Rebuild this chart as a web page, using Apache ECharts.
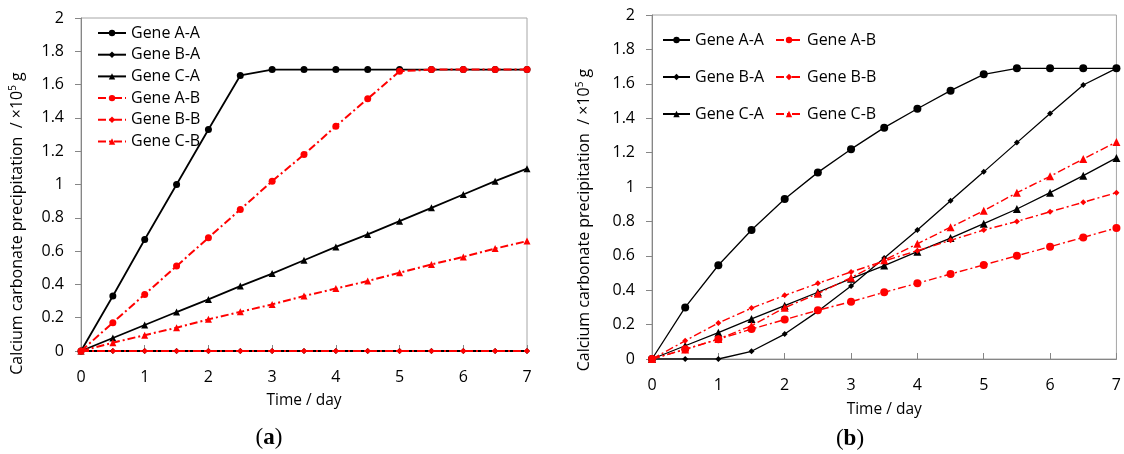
<!DOCTYPE html>
<html>
<head>
<meta charset="utf-8">
<script src="https://cdn.jsdelivr.net/npm/echarts@6/dist/echarts.min.js"></script>
<style>html,body{margin:0;padding:0;background:#fff}#c{width:1124px;height:454px}</style>
</head>
<body>
<div id="c"></div>
<script>
// ---- data ----
const times = [0,0.5,1,1.5,2,2.5,3,3.5,4,4.5,5,5.5,6,6.5,7];
const xTicks = [0,1,2,3,4,5,6,7];
const yTicks = [0,0.2,0.4,0.6,0.8,1,1.2,1.4,1.6,1.8,2];
const seriesNames = ['Gene A-A','Gene B-A','Gene C-A','Gene A-B','Gene B-B','Gene C-B'];

// panel (a)
const aGeneAA = [0,0.33,0.67,1.0,1.33,1.655,1.69,1.69,1.69,1.69,1.69,1.69,1.69,1.69,1.69];
const aGeneBA = [0,0,0,0,0,0,0,0,0,0,0,0,0,0,0];
const aGeneCA = [0,0.078,0.156,0.234,0.31,0.39,0.465,0.545,0.625,0.70,0.78,0.86,0.94,1.02,1.095];
const aGeneAB = [0,0.17,0.34,0.51,0.68,0.85,1.02,1.18,1.35,1.515,1.68,1.69,1.69,1.69,1.69];
const aGeneBB = [0,0,0,0,0,0,0,0,0,0,0,0,0,0,0];
const aGeneCB = [0,0.05,0.095,0.14,0.19,0.235,0.28,0.33,0.375,0.42,0.47,0.52,0.565,0.615,0.66];

// panel (b)
const bGeneAA = [0,0.30,0.545,0.75,0.93,1.085,1.22,1.345,1.455,1.56,1.655,1.69,1.69,1.69,1.69];
const bGeneBA = [0,0,0,0.045,0.145,0.277,0.425,0.587,0.75,0.92,1.088,1.258,1.427,1.593,1.69];
const bGeneCA = [0,0.077,0.153,0.233,0.31,0.388,0.467,0.543,0.624,0.703,0.787,0.872,0.967,1.066,1.169];
const bGeneAB = [0,0.057,0.115,0.174,0.229,0.283,0.333,0.388,0.44,0.494,0.547,0.60,0.653,0.707,0.762];
const bGeneBB = [0,0.106,0.209,0.296,0.37,0.44,0.506,0.57,0.63,0.69,0.75,0.80,0.856,0.911,0.967];
const bGeneCB = [0,0.055,0.116,0.194,0.298,0.38,0.473,0.574,0.67,0.766,0.862,0.967,1.062,1.163,1.262];

const aData = [aGeneAA,aGeneBA,aGeneCA,aGeneAB,aGeneBB,aGeneCB];
const bData = [bGeneAA,bGeneBA,bGeneCA,bGeneAB,bGeneBB,bGeneCB];

// ---- styling ----
const FONT = '"Open Sans", "Noto Sans", sans-serif';
const symbols = ['circle','diamond','triangle','circle','diamond','triangle'];
const colors = ['#000','#000','#000','#ff0000','#ff0000','#ff0000'];
const dash = [8,3,2,3];

function pairs(arr){ return times.map((t,i)=>[t,arr[i]]); }

function mkSeries(dataArr, idx, panel){
  return dataArr.map((arr,i)=>{
    const isB = i>=3;
    const sizeA = [7,6,7,7,6,7];
    const sizeB = [8,6,8,8,6,8];
    return {
      name: seriesNames[i] + (panel==='b' ? ' (b)' : ''),
      type:'line',
      xAxisIndex: idx, yAxisIndex: idx,
      data: pairs(arr),
      symbol: symbols[i],
      symbolSize: panel==='a' ? sizeA[i] : sizeB[i],
      showAllSymbol: true,
      color: colors[i],
      itemStyle:{color:colors[i]},
      lineStyle:{color:colors[i], width: panel==='a' ? (isB?2:1.8) : (isB?1.4:1.3), type: isB ? dash : 'solid'},
      animation:false,
      z: 2 + i
    };
  });
}

const yName = 'Calcium carbonate precipitation  / ×10{sup|5} g';
function yAxis(idx, gap, shift){
  return {
    type:'value', gridIndex: idx, min:0, max:2, interval:0.2,
    name: yName, nameLocation:'middle', nameGap: gap, nameRotate: 90,
    nameTextStyle:{fontFamily:FONT, fontSize:16, color:'#000', padding:[0, shift, 0, 0],
      rich:{sup:{fontFamily:FONT,fontSize:10,color:'#000',verticalAlign:'top',padding:[0,0,8,0]}}},
    axisLine:{show:true, lineStyle:{color:'#868686', width:1}},
    axisTick:{show:true, inside:false, length:6, lineStyle:{color:'#868686'}},
    splitLine:{show:false},
    axisLabel:{fontFamily:FONT, fontSize:16, color:'#000', margin:17,
      formatter: v => { const k = yTicks.findIndex(t=>Math.abs(t-v)<1e-6); return k>=0 ? String(yTicks[k]) : ''; }}
  };
}
function xAxis(idx, gap){
  return {
    type:'value', gridIndex: idx, min:0, max:7, interval:1,
    name:'Time / day', nameLocation:'middle', nameGap: gap,
    nameTextStyle:{fontFamily:FONT, fontSize:15.5, color:'#000'},
    axisLine:{show:true, onZero:false, lineStyle:{color:'#868686', width:1}},
    axisTick:{show:true, inside:true, length:6, lineStyle:{color:'#868686'}},
    splitLine:{show:false},
    axisLabel:{fontFamily:FONT, fontSize:16, color:'#000', margin:18,
      formatter: v => { const k = xTicks.indexOf(v); return k>=0 ? String(xTicks[k]) : ''; }}
  };
}

const legendText = {fontFamily:FONT, fontSize:16, color:'#000', lineHeight:18};
const capRich = {
  p:{fontFamily:'"Liberation Serif", serif', fontSize:23, fill:'#000', color:'#000'},
  b:{fontFamily:'"Liberation Serif", serif', fontSize:23, fontWeight:'bold', fill:'#000', color:'#000'}
};

const option = {
  backgroundColor:'#fff',
  animation:false,
  grid:[
    {left:81, right:597, top:18, bottom:103, show:true, borderColor:'#a6a6a6', borderWidth:1},
    {left:652, right:3, top:15, bottom:95, show:true, borderColor:'#a6a6a6', borderWidth:1}
  ],
  xAxis:[xAxis(0,42), xAxis(1,43)],
  yAxis:[yAxis(0,55,78), yAxis(1,59,66)],
  legend:[
    {orient:'vertical', left:97, top:24, padding:0, itemGap:3.7, itemWidth:28, itemHeight:8,
     data: seriesNames, textStyle:legendText, selectedMode:false},
    {orient:'vertical', left:662, top:31, padding:0, itemGap:19, itemWidth:27, itemHeight:8,
     data: seriesNames.slice(0,3).map(n=>n+' (b)'), textStyle:legendText, selectedMode:false,
     formatter: n => n.replace(' (b)','')},
    {orient:'vertical', left:775, top:31, padding:0, itemGap:19, itemWidth:26, itemHeight:8,
     data: seriesNames.slice(3).map(n=>n+' (b)'), textStyle:legendText, selectedMode:false,
     formatter: n => n.replace(' (b)','')}
  ],
  graphic:[
    {type:'text', x:269, y:438, style:{text:'{p|(}{b|a}{p|)}', align:'center', verticalAlign:'middle', rich:capRich}},
    {type:'text', x:850, y:439, style:{text:'{p|(}{b|b}{p|)}', align:'center', verticalAlign:'middle', rich:capRich}}
  ],
  series: [...mkSeries(aData,0,'a'), ...mkSeries(bData,1,'b')]
};

const chart = echarts.init(document.getElementById('c'), null, {renderer:'canvas'});
chart.setOption(option);
</script>
</body>
</html>
